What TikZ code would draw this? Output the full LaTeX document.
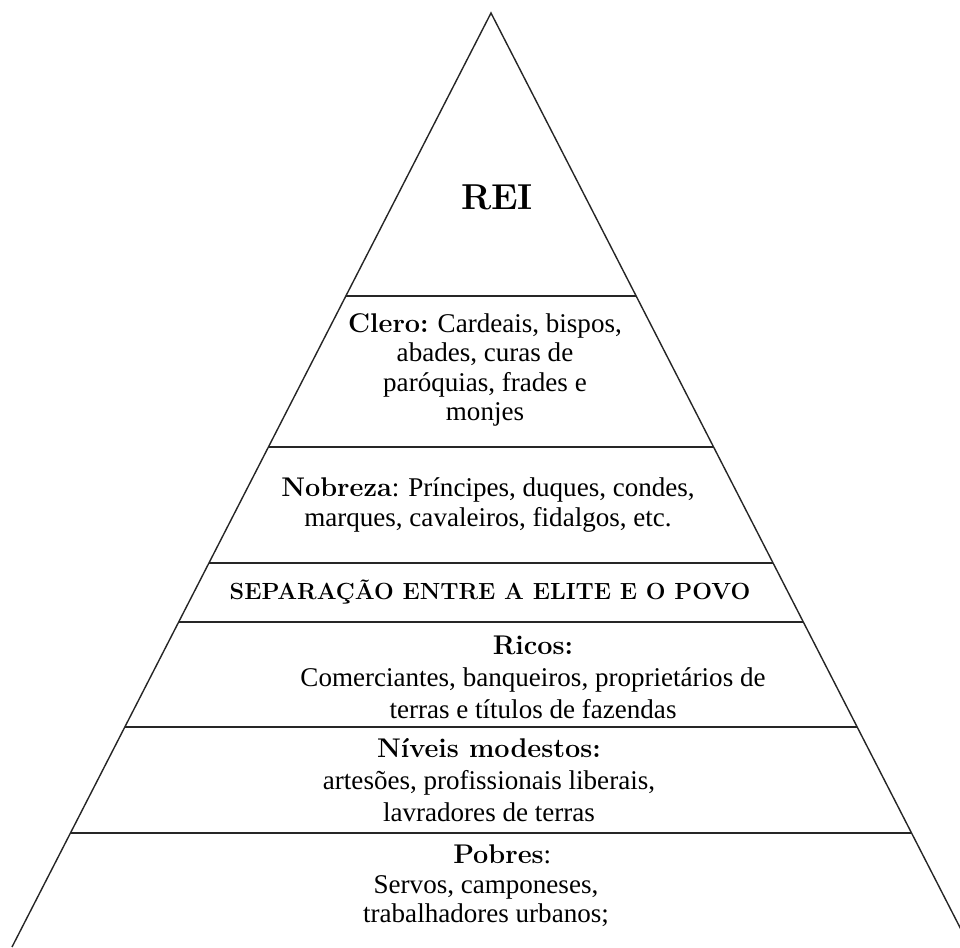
\documentclass[tikz,border=0pt]{standalone}
\usepackage{fontspec}
\setmainfont{Liberation Serif}
\newcommand{\rank}[1]{{\fontfamily{lmr}\fontseries{bx}\selectfont #1}}
\usetikzlibrary{calc}

\begin{document}
\begin{tikzpicture}[
  x=0.02cm, y=-0.02cm,
  layer/.style={align=center, inner sep=0pt, font=\fontsize{15.4}{16.8}\selectfont},
  wide/.style={layer, font=\fontsize{15.4}{18.2}\selectfont},
  edge/.style={draw=black!85, line width=.8pt}
]
\useasboundingbox (0,0) rectangle (960,947);
\clip (0,0) rectangle (960,947);
\coordinate (apex) at (491,13);
\coordinate (bl) at (12,947);
\coordinate (br) at (970,947);
\draw[edge] (bl) -- (apex) -- (br);
\foreach \yy in {296,447,563,622,727,833}
  \draw[edge] ($(apex)!{(\yy-13)/934}!(bl)$) -- ($(apex)!{(\yy-13)/934}!(br)$);
\node[font=\fontsize{20.5}{24}\selectfont] (rei) at (497,197) {\rank{REI}};
\node[layer] (clero) at (485,370) {\rank{Clero:} Cardeais, bispos,\\abades, curas de\\paróquias, frades e\\monjes};
\node[layer] (nobreza) at (488,505) {\rank{Nobreza}: Príncipes, duques, condes,\\marques, cavaleiros, fidalgos, etc.};
\node[layer, font=\fontsize{13.3}{16.8}\selectfont] (separacao) at (490,592) {\rank{SEPARAÇÃO ENTRE A ELITE E O POVO}};
\node[wide] (ricos) at (533,677) {\rank{Ricos:}\\Comerciantes, banqueiros, proprietários de\\terras e títulos de fazendas};
\node[wide] (modestos) at (489,780) {\rank{Níveis modestos:}\\artesões, profissionais liberais,\\lavradores de terras};
\node[layer] (pobres) at (486,886) {\hspace*{1.2em}\rank{Pobres}:\\Servos, camponeses,\\trabalhadores urbanos;};
\end{tikzpicture}
\end{document}
